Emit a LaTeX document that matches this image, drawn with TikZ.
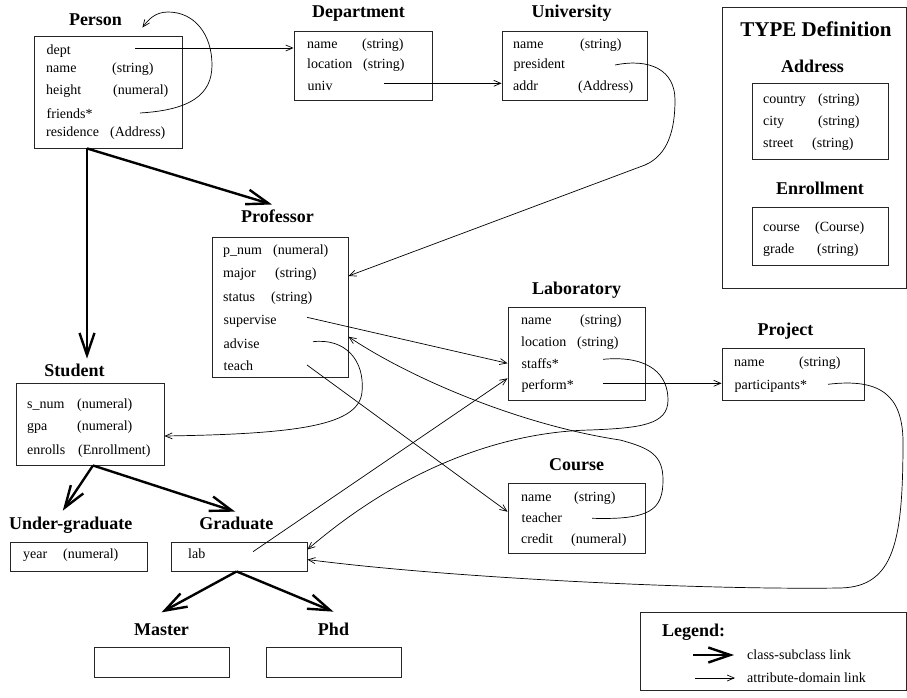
\documentclass[tikz,border=0pt]{standalone}
\usepackage{fontspec}
\setmainfont{Liberation Serif}
\usetikzlibrary{arrows.meta,positioning,fit}
\newcommand{\fld}[3]{\makebox[#2pt][l]{#1}#3}

\begin{document}
\begin{tikzpicture}[
 x=1pt,y=-1pt,
 every node/.style={inner sep=0pt},
 cls/.style={draw=black!85,line width=0.9pt,inner sep=0pt},
 title/.style={font=\fontsize{18}{20}\selectfont\bfseries,text depth=0pt},
 attr/.style={anchor=base west,font=\fontsize{14}{16}\selectfont},
 isa/.style={-{Straight Barb[length=22pt,width=15pt]},line width=2.4pt},
 link/.style={-{Straight Barb[length=7pt,width=6pt]},line width=0.7pt}
]
\useasboundingbox (0,0) rectangle (907,698);

% classes
\node[cls,fit={(34,36) (182,148)}] (person) {};
\node[title,above=10pt of person,xshift=-12.5pt] (person-t) {Person};
\foreach \k/\y/\a/\w/\t in {dept/54.5/dept/0/{}, name/73/name/66/(string), height/94.5/height/67/(numeral), friends/118/friends*/0/{}, res/136/residence/64/(Address)}
  \node[attr] (person-\k) at (46,\y) {\fld{\a}{\w}{\t}};

\node[cls,fit={(294,31) (432,100)}] (dep) {};
\node[title,above=13pt of dep,xshift=-4.5pt] (dep-t) {Department};
\foreach \k/\y/\a/\w/\t in {name/49/name/55/(string), loc/69/location/56/(string), univ/91/univ/0/{}}
  \node[attr] (dep-\k) at (307,\y) {\fld{\a}{\w}{\t}};

\node[cls,fit={(502,31) (647,100)}] (uni) {};
\node[title,above=13pt of uni,xshift=-3pt] (uni-t) {University};
\foreach \k/\y/\a/\w/\t in {name/49/name/67/(string), pres/69/president/0/{}, addr/91/addr/65/(Address)}
  \node[attr] (uni-\k) at (513,\y) {\fld{\a}{\w}{\t}};

\node[cls,fit={(212,237) (348,377)}] (prof) {};
\node[title,above=14pt of prof,xshift=-2.5pt] (prof-t) {Professor};
\foreach \k/\y/\a/\w/\t in {pnum/254.5/p\_num/50/(numeral), major/277/major/52/(string), status/301/status/48/(string), sup/324/supervise/0/{}, adv/348.5/advise/0/{}, teach/370/teach/0/{}}
  \node[attr] (prof-\k) at (223,\y) {\fld{\a}{\w}{\t}};

\node[cls,fit={(16,383) (164,465)}] (stu) {};
\node[title,above=6pt of stu,xshift=-15.5pt] (stu-t) {Student};
\foreach \k/\y/\a/\w/\t in {snum/408/s\_num/50/(numeral), gpa/430/gpa/50/(numeral), enr/454/enrolls/51/(Enrollment)}
  \node[attr] (stu-\k) at (27,\y) {\fld{\a}{\w}{\t}};

\node[cls,fit={(508,307) (645,400)}] (lab) {};
\node[title,above=12pt of lab] (lab-t) {Laboratory};
\foreach \k/\y/\a/\w/\t in {name/324.5/name/59/(string), loc/346/location/56/(string), staffs/368/staffs*/0/{}, perf/389.5/perform*/0/{}}
  \node[attr] (lab-\k) at (521,\y) {\fld{\a}{\w}{\t}};

\node[cls,fit={(722,348) (864,400)}] (proj) {};
\node[title,above=12pt of proj,xshift=-7.5pt] (proj-t) {Project};
\foreach \k/\y/\a/\w/\t in {name/366/name/65/(string), part/389.5/participants*/0/{}}
  \node[attr] (proj-\k) at (734,\y) {\fld{\a}{\w}{\t}};

\node[cls,fit={(508,483) (645,553)}] (course) {};
\node[title,above=12pt of course] (course-t) {Course};
\foreach \k/\y/\a/\w/\t in {name/501/name/53/(string), teacher/522/teacher/0/{}, credit/543.5/credit/50/(numeral)}
  \node[attr] (course-\k) at (521,\y) {\fld{\a}{\w}{\t}};

\node[cls,fit={(10,542) (147,571)}] (ug) {};
\node[title,above=12pt of ug,xshift=-7.7pt] (ug-t) {Under-graduate};
\node[attr] (ug-year) at (23,558.5) {\fld{year}{40}{(numeral)}};

\node[cls,fit={(171,542) (307,571)}] (grad) {};
\node[title,above=12pt of grad,xshift=-2.7pt] (gr-t) {Graduate};
\node[attr] (grad-lab) at (188,558.5) {lab};

\node[cls,fit={(94,647) (229,677)}] (master) {};
\node[title,above=11pt of master] (ma-t) {Master};
\node[cls,fit={(266,647) (401,677)}] (phd) {};
\node[title,above=11pt of phd] (phd-t) {Phd};

% type definitions
\node[cls,fit={(722,7) (906,288)}] (typedef) {};
\node[font=\fontsize{21}{24}\selectfont\bfseries,anchor=base] (typedef-t) at (816,37) {TYPE Definition};
\node[cls,fit={(752,83) (888,159)}] (addr) {};
\node[title,above=10pt of addr,xshift=-7.5pt] (addr-t) {Address};
\foreach \k/\y/\a/\w/\t in {country/104/country/55/(string), city/126/city/55/(string), street/147/street/49/(string)}
  \node[attr] (addr-\k) at (763,\y) {\fld{\a}{\w}{\t}};
\node[cls,fit={(752,207) (888,265)}] (enr) {};
\node[title,above=12pt of enr] (enr-t) {Enrollment};
\foreach \k/\y/\a/\w/\t in {course/231/course/52/(Course), grade/253/grade/54/(string)}
  \node[attr] (enr-\k) at (763,\y) {\fld{\a}{\w}{\t}};

% class-subclass links
\coordinate (isa-p) at ([xshift=-21pt]person.south);
\draw[isa] (isa-p) -- ([yshift=5pt]isa-p |- stu-t.north);
\draw[isa] (isa-p) -- ([shift={(-5.5pt,5pt)}]prof-t.north);
\coordinate (isa-s) at ([xshift=3pt]stu.south);
\draw[isa] (isa-s) -- ([shift={(-8pt,6pt)}]ug-t.north);
\draw[isa] (isa-s) -- ([shift={(-1pt,5pt)}]gr-t.north);
\coordinate (isa-g) at ([xshift=-2.4pt]grad.south);
\draw[isa] (isa-g) -- ([yshift=11pt]ma-t.north);
\draw[isa] (isa-g) -- ([yshift=11pt]phd-t.north);

% attribute-domain links
\coordinate (o-dept) at ([shift={(89pt,6.5pt)}]person-dept.base west);
\coordinate (o-friends) at ([shift={(94pt,5pt)}]person-friends.base west);
\coordinate (o-univ) at ([shift={(77pt,7.7pt)}]dep-univ.base west);
\coordinate (o-pres) at ([shift={(102pt,4pt)}]uni-pres.base west);
\coordinate (o-sup) at ([shift={(84pt,6.7pt)}]prof-sup.base west);
\coordinate (o-adv) at ([shift={(90pt,6.8pt)}]prof-adv.base west);
\coordinate (o-teach) at ([shift={(84pt,5pt)}]prof-teach.base west);
\coordinate (o-staffs) at ([shift={(82pt,8.7pt)}]lab-staffs.base west);
\coordinate (o-perf) at ([shift={(82pt,6.2pt)}]lab-perf.base west);
\coordinate (o-part) at ([shift={(94pt,5.2pt)}]proj-part.base west);
\coordinate (o-teacher) at ([shift={(71pt,3.7pt)}]course-teacher.base west);
\coordinate (o-lab) at ([shift={(65pt,6.8pt)}]grad-lab.base west);

\draw[link] (o-dept) -- (o-dept -| dep.west);
\draw[link] (o-univ) -- (o-univ -| uni.west);
\draw[link] (o-perf) -- (o-perf -| proj.west);
\draw[link] (o-sup) -- ([yshift=4.7pt]lab-staffs.base -| lab.west);
\draw[link] (o-teach) -- ([yshift=10.3pt]course-teacher.base -| course.west);
\draw[link] (o-lab) -- ([yshift=11.2pt]lab-perf.base -| lab.west);
\draw[link] (o-friends) .. controls (190,110) and (212,95) .. (212,65)
  .. controls (212,35) and (195,12) .. (168,12)
  .. controls (155,12) and (148,20) .. ([shift={(-40pt,8pt)}]person.north east);
\draw[link] (o-pres) .. controls (650,58) and (675,70) .. (675,100)
  .. controls (675,130) and (668,155) .. (645,165) -- ([yshift=1pt]prof-major.base -| prof.east);
\draw[link] (o-adv) .. controls (345,338) and (365,360) .. (362,392)
  .. controls (359,425) and (300,434) .. ([yshift=-6pt]stu-gpa.base -| stu.east);
\draw[link] (o-staffs) .. controls (650,355) and (668,375) .. (668,400)
  .. controls (668,425) and (640,428) .. (590,430)
  .. controls (500,432) and (400,470) .. ([yshift=-8pt]grad.north east);
\draw[link] (o-teacher) .. controls (650,520) and (663,510) .. (663,480)
  .. controls (663,455) and (650,448) .. (620,440)
  .. controls (520,425) and (410,378) .. ([yshift=11.8pt]prof-adv.base -| prof.east);
\draw[link] (o-part) .. controls (880,378) and (902,395) .. (903,440)
  .. controls (903,540) and (895,587) .. (840,588)
  .. controls (700,590) and (450,578) .. ([yshift=-18pt]grad.north east);

% legend
\node[cls,fit={(640,612) (906,690)}] (legend) {};
\node[title,anchor=base west] (lg-t) at (662,636) {Legend:};
\node[attr,anchor=west] (lg-isa) at (747,655) {class-subclass link};
\node[attr,anchor=west] (lg-link) at (747,678) {attribute-domain link};
\draw[isa] ([xshift=-54pt]lg-isa.west) -- ([xshift=-13pt]lg-isa.west);
\draw[link] ([xshift=-52pt]lg-link.west) -- ([xshift=-12pt]lg-link.west);
\end{tikzpicture}
\end{document}
